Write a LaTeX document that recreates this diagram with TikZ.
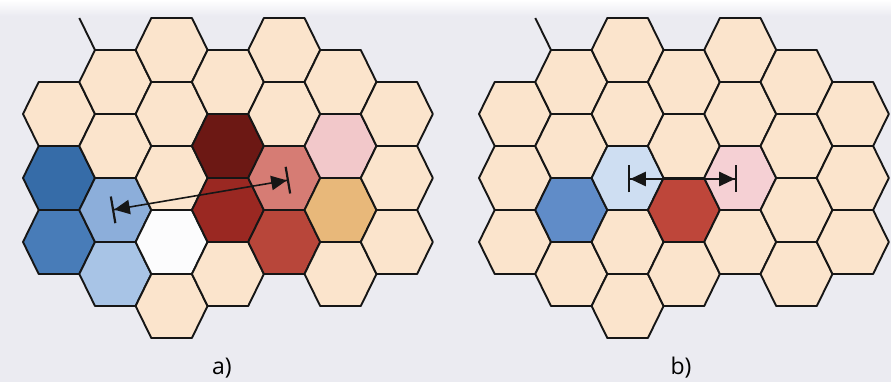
\documentclass[tikz,border=0pt]{standalone}
\usepackage{fontspec}
\newfontfamily\lblfont{Open Sans}
\usetikzlibrary{arrows.meta}
\definecolor{bgcol}{RGB}{235,235,241}
\definecolor{beige}{RGB}{251,228,204}
\definecolor{edgecol}{RGB}{22,22,22}
\definecolor{adark}{RGB}{54,108,168}
\definecolor{ablue}{RGB}{72,124,184}
\definecolor{alight}{RGB}{140,174,218}
\definecolor{apale}{RGB}{168,196,230}
\definecolor{awhite}{RGB}{252,252,253}
\definecolor{amaroon}{RGB}{108,24,20}
\definecolor{ared}{RGB}{154,40,34}
\definecolor{asalmon}{RGB}{214,124,116}
\definecolor{abrick}{RGB}{184,70,58}
\definecolor{apink}{RGB}{242,200,202}
\definecolor{atan}{RGB}{232,184,122}
\definecolor{bblue}{RGB}{96,140,200}
\definecolor{blight}{RGB}{206,222,242}
\definecolor{bred}{RGB}{190,70,58}
\definecolor{bpink}{RGB}{245,208,212}
\tikzset{
  hexline/.style={draw=edgecol, line width=1.9pt, line join=round},
  dimarrow/.style={draw=edgecol, line width=1.6pt,
    arrows={Bar[width=27pt,line width=2.2pt]Triangle[length=12pt,width=11pt,scale=1.3]-Triangle[length=12pt,width=11pt,scale=1.3]Bar[width=27pt,line width=2.2pt]}},
  lbl/.style={font=\lblfont\fontsize{23}{25}\selectfont, text=black, inner sep=0pt}
}
\newcommand{\hexcell}[3]{\draw[hexline,fill=#3,shift={(#1,#2)}] (-36,0) -- (-20.3,-32) -- (20.3,-32) -- (36,0) -- (20.3,32) -- (-20.3,32) -- cycle;}
\begin{document}
\begin{tikzpicture}[x=1pt,y=-1pt]
\useasboundingbox (0,0) rectangle (891,382);
\fill[bgcol] (0,0) rectangle (891,382);
\shade[top color=white, bottom color=bgcol] (0,0) rectangle (891,16);
% panel a
\foreach \c/\r/\col in {0/114/beige,0/178/adark,0/242/ablue,
  1/82/beige,1/146/beige,1/210/alight,1/274/apale,
  2/50/beige,2/114/beige,2/178/beige,2/242/awhite,2/306/beige,
  3/82/beige,3/146/amaroon,3/210/ared,3/274/beige,
  4/50/beige,4/114/beige,4/178/asalmon,4/242/abrick,
  5/82/beige,5/146/apink,5/210/atan,5/274/beige,
  6/114/beige,6/178/beige,6/242/beige}{
  \pgfmathsetmacro\xx{59+56.3*\c}
  \hexcell{\xx}{\r}{\col}
}
\draw[hexline] (79.3,18) -- (95,50);
% panel b
\foreach \c/\r/\col in {0/114/beige,0/178/beige,0/242/beige,
  1/82/beige,1/146/beige,1/210/bblue,1/274/beige,
  2/50/beige,2/114/beige,2/178/blight,2/242/beige,2/306/beige,
  3/82/beige,3/146/beige,3/210/bred,3/274/beige,
  4/50/beige,4/114/beige,4/178/bpink,4/242/beige,
  5/82/beige,5/146/beige,5/210/beige,5/274/beige,
  6/114/beige,6/178/beige,6/242/beige}{
  \pgfmathsetmacro\xx{515+56.3*\c}
  \hexcell{\xx}{\r}{\col}
}
\draw[hexline] (535.3,18) -- (551,50);
% dimension arrows
\coordinate (a1) at (112,210);
\coordinate (a2) at (289,180);
\draw[dimarrow] (a1) -- (a2);
\coordinate (b1) at (628,179);
\coordinate (b2) at (737,179);
\draw[dimarrow] (b1) -- (b2);
% labels
\node[lbl] (la) at (222,368) {a)};
\node[lbl] (lb) at (681,368) {b)};
\end{tikzpicture}
\end{document}
